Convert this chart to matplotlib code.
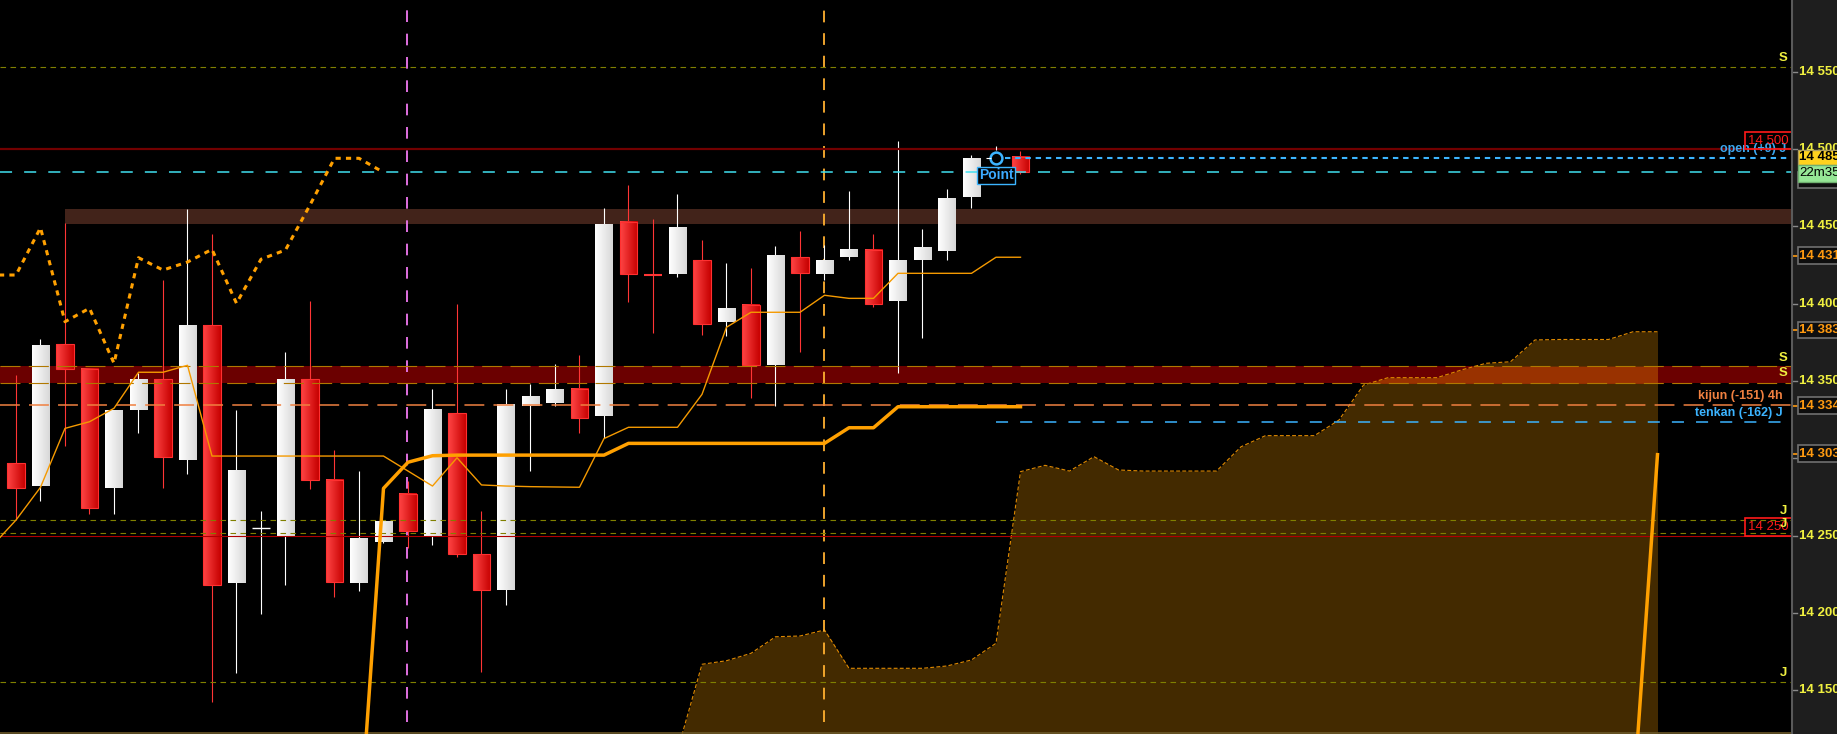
import numpy as np
import matplotlib
matplotlib.use("Agg")
import matplotlib.pyplot as plt
import matplotlib.transforms as mtransforms
from matplotlib.colors import LinearSegmentedColormap
from matplotlib.patches import Rectangle

plt.rcParams['font.family'] = ['Liberation Sans', 'DejaVu Sans']

# candles: slot on the time axis (slot 40 is empty), then OHLC
slots = list(range(0, 40)) + [41]
opens = [14297, 14282, 14374, 14358, 14281, 14331, 14351, 14299, 14386, 14219,
         14255, 14250, 14351, 14286, 14219, 14246, 14277, 14250, 14329, 14238,
         14215, 14334, 14336, 14345, 14327, 14453, 14419, 14419, 14428, 14388,
         14399, 14360, 14430, 14419, 14430, 14435, 14402, 14428, 14434, 14469,
         14495]
highs = [14354, 14377, 14452, 14358, 14331, 14355, 14415, 14461, 14445, 14331,
         14266, 14369, 14402, 14305, 14292, 14260, 14285, 14345, 14400, 14266,
         14345, 14348, 14361, 14367, 14462, 14477, 14455, 14471, 14441, 14426,
         14423, 14437, 14447, 14438, 14473, 14445, 14505, 14448, 14474, 14496,
         14499]
lows = [14260, 14272, 14308, 14264, 14264, 14316, 14281, 14290, 14142, 14161,
        14199, 14218, 14280, 14210, 14214, 14245, 14242, 14244, 14236, 14162,
        14205, 14292, 14334, 14316, 14313, 14401, 14381, 14417, 14380, 14379,
        14339, 14334, 14369, 14415, 14428, 14398, 14355, 14378, 14428, 14462,
        14484]
closes = [14281, 14373, 14358, 14268, 14331, 14351, 14301, 14386, 14218, 14292,
          14255, 14351, 14286, 14220, 14248, 14259, 14253, 14332, 14238, 14215,
          14335, 14340, 14345, 14326, 14451, 14419, 14418, 14449, 14387, 14397,
          14360, 14431, 14420, 14428, 14435, 14400, 14428, 14436, 14468, 14494,
          14485]

# thin orange line
thin_x = list(range(-1, 42))
thin_y = [14242.8, 14260.0, 14281.2, 14319.3, 14323.6, 14332.3, 14355.6, 14355.6, 14360.1,
          14301.4, 14301.4, 14301.4, 14301.4, 14301.4, 14301.4, 14301.4, 14301.4,
          14291.7, 14282.0, 14300.3, 14282.7, 14282.0, 14281.6, 14281.4, 14281.2,
          14312.7, 14320.0, 14320.0, 14320.0, 14341.3, 14384.7, 14394.4, 14394.4, 14394.4,
          14405.4, 14403.4, 14403.4, 14419.6, 14419.6, 14419.6, 14419.6, 14430.0, 14430.0]

# thick orange line (two pieces)
thick_x = list(range(14, 42))
thick_y = [14053.6, 14280.5, 14297.4, 14301.6,
           14302, 14302, 14302, 14302, 14302, 14302, 14302,
           14309.6, 14309.6, 14309.6, 14309.6, 14309.6, 14309.6, 14309.6, 14309.6, 14309.6,
           14319.7, 14319.7,
           14333.3, 14333.3, 14333.3, 14333.3, 14333.3, 14333.3]
thick2_x = [66, 67]
thick2_y = [14076.5, 14302.3]

# dashed lagging line
lag_x = list(range(-1, 16))
lag_y = [14418.5, 14418.5, 14449.1, 14388.3, 14397.0, 14361.4, 14429.7, 14421.7, 14426.9,
         14435.1, 14400.2, 14428.7, 14434.7, 14463.8, 14494.0, 14494.0, 14484.9]

# cloud upper edge
cloud_x = list(range(27, 68))
cloud_top = [14110.9, 14166.7, 14169.0, 14173.8, 14184.5, 14185.0, 14188.9,
             14164.1, 14164.1, 14164.1, 14164.1, 14165.6, 14169.5, 14180.3,
             14291.3, 14295.4, 14291.7, 14301.0, 14292.4, 14291.7, 14291.7, 14291.7, 14291.7,
             14307.4, 14314.6, 14314.6, 14314.6, 14324.7, 14347.3, 14352.1, 14352.1, 14352.1,
             14357.1, 14361.4, 14362.4, 14376.5, 14376.8, 14376.8, 14376.8, 14381.8, 14381.8]

# horizontal levels
res_level = 14500
sup_level = 14250
last_price = 14485
open_level = 14494.5
brown_zone = (14451.5, 14461.2)
red_zone = (14348.4, 14359.6)
kijun_level = 14334.4
tenkan_level = 14323.2
s_level = 14553.2
j_levels = [14260, 14251.4, 14155]
violet_x = 15.97
orange_x = 33.0
point_xy = (40, 14494)

axis_ticks = [14150, 14200, 14250, 14300, 14350, 14400, 14450, 14500, 14550]
tag_values = [14431, 14383, 14334, 14303]

# figure
W, H = 1837, 734
AXW = 1792
YLO, YHI = 14121.6, 14596.4
XLO, XHI = -0.653, 72.49
PXP = (YHI - YLO) / H  # price per pixel

fig = plt.figure(figsize=(W / 100, H / 100), dpi=100, facecolor='black')
ax = fig.add_axes([0, 0, AXW / W, 1])
ax.set_facecolor('black')
side = fig.add_axes([AXW / W, 0, 1 - AXW / W, 1])
side.set_facecolor('#1e1e1e')
for a in (ax, side):
    a.set_xticks([])
    a.set_yticks([])
    for s in a.spines.values():
        s.set_visible(False)
side.spines['left'].set_visible(True)
side.spines['left'].set_color('#5a5a5a')
side.spines['left'].set_linewidth(1.5)

bt = mtransforms.blended_transform_factory(ax.transAxes, ax.transData)
st = mtransforms.blended_transform_factory(side.transAxes, side.transData)

# zones
ax.axhspan(red_zone[0], red_zone[1], color='#6b0000', zorder=0.5, lw=0)
ax.fill_between([2, XHI + 1], brown_zone[0], brown_zone[1], color='#42231a', zorder=0.5, lw=0)

# cloud
xs = np.linspace(cloud_x[0], cloud_x[-1], 2000)
ys = np.interp(xs, cloud_x, cloud_top)
ax.fill_between(xs, 14000, ys, color='#432a00', zorder=1, lw=0)
ax.fill_between(xs, red_zone[0], np.clip(ys, red_zone[0], red_zone[1]),
                where=ys > red_zone[0], color='#993200', zorder=1.5, lw=0)
ax.plot(cloud_x, cloud_top, color='#e08a00', lw=0.8, dashes=(3.5, 2), zorder=2)

# vertical dashed lines
ax.plot([violet_x, violet_x], [YLO + 8, YHI], color='#e070e0', lw=1.4, dashes=(6, 6), zorder=3)
ax.plot([orange_x, orange_x], [YLO + 8, YHI], color='#ffb030', lw=1.3, dashes=(6.5, 6), zorder=3)

# candles
red_cm = LinearSegmentedColormap.from_list('rc', ['#ff4545', '#c60000'])
white_cm = LinearSegmentedColormap.from_list('wc', ['#ffffff', '#d8d8d8'])
grad = np.linspace(0, 1, 64).reshape(1, -1)
BW = 0.71
for i, o, h, l, c in zip(slots, opens, highs, lows, closes):
    wcol = '#ffffff' if c >= o else '#ff3535'
    ax.vlines(i, l, h, color=wcol, lw=0.8, zorder=5)
    lo, hi = min(o, c), max(o, c)
    if hi - lo < 1.5:
        ax.hlines((lo + hi) / 2, i - BW / 2, i + BW / 2, color=wcol,
                  lw=1.5 if c < o else 1.0, zorder=6)
        continue
    ax.imshow(grad, cmap=white_cm if c >= o else red_cm, aspect='auto',
              extent=[i - BW / 2, i + BW / 2, lo, hi], zorder=6)
    if c < o:
        ax.add_patch(Rectangle((i - BW / 2, lo), BW, hi - lo, fill=False,
                               ec='#ff3030', lw=0.8, zorder=6.5))

# horizontal lines
ax.axhline(res_level, color='#720000', lw=1.6, zorder=7)
ax.axhline(sup_level, color='#b00000', lw=0.8, zorder=7)
ax.axhline(last_price, color='#40e0f0', lw=1.1, dashes=(7.9, 7.9), zorder=7)
ax.plot([40.37, XHI], [open_level, open_level], color='#3cb4ff', lw=1.5, dashes=(2.6, 2.3), zorder=7)
ax.plot([40, XHI], [tenkan_level, tenkan_level], color='#3cb4ff', lw=1.1, dashes=(7.9, 7.9), zorder=7)
ax.axhline(kijun_level, color='#f08040', lw=1.1, dashes=(13, 6), zorder=7)
for lv in red_zone:
    ax.axhline(lv, color='#b07800', lw=0.8, dashes=(18, 7.5), zorder=7)
ax.axhline(s_level, color='#808000', lw=0.8, dashes=(5, 4), zorder=7)
for lv in j_levels:
    ax.axhline(lv, color='#808000', lw=0.8, dashes=(5, 4), zorder=7)
ax.axhline(YLO + 0.6, color='#6b5a2a', lw=1.2, zorder=7)

# indicator lines
ax.plot(thin_x, thin_y, color='#f59a00', lw=1.0, zorder=8)
ax.plot(thick_x, thick_y, color='#ffa000', lw=2.5, zorder=8, solid_joinstyle='round')
ax.plot(thick2_x, thick2_y, color='#ffa000', lw=2.5, zorder=8)
ax.plot(lag_x, lag_y, color='#ffa000', lw=2.2, dashes=(1.7, 1.7), zorder=8)

# point marker
ax.plot(*point_xy, marker='o', ms=8.5, mfc='none', mec='#3cb4ff', mew=1.8, zorder=9)
ax.hlines(point_xy[1], 39.6, 39.78, color='white', lw=0.8, zorder=9)
ax.vlines(point_xy[0], point_xy[1] + 5.2, point_xy[1] + 8, color='white', lw=0.8, zorder=9)
ax.text(point_xy[0], point_xy[1] - 11, 'Point', color='#3caaff', fontsize=10, fontweight='bold',
        ha='center', va='center', zorder=10,
        bbox=dict(boxstyle='square,pad=0.12', fc='black', ec='#3cb4ff', lw=1))

# labels inside the chart, right side
ax.text(1786 / AXW, open_level + 5.5, 'open (+9) J', transform=bt, color='#3ca8f0',
        fontsize=9, fontweight='bold', ha='right', va='center', zorder=10)
ax.text(1783 / AXW, kijun_level + 5.8, 'kijun (-151) 4h', transform=bt, color='#f08040',
        fontsize=9, fontweight='bold', ha='right', va='center', zorder=10)
ax.text(1783 / AXW, tenkan_level + 5.8, 'tenkan (-162) J', transform=bt, color='#3cb4ff',
        fontsize=9, fontweight='bold', ha='right', va='center', zorder=10)
for lv, txt in [(res_level, '14 500'), (sup_level, '14 250')]:
    ax.add_patch(Rectangle((1745 / AXW, lv), 1 - 1745 / AXW, 17.5 * PXP, transform=bt,
                           fill=False, ec='#ff1a1a', lw=1.2, zorder=10))
    ax.text(1768 / AXW, lv + 8.5 * PXP, txt, transform=bt, color='#ff1a1a', fontsize=9.5,
            ha='center', va='center', zorder=10)
for lv in [s_level, red_zone[1], red_zone[0] + 1.5]:
    ax.text(1787 / AXW, lv + 5.5, 'S', transform=bt, color='#f0f040', fontsize=9.5,
            fontweight='bold', ha='right', va='center', zorder=10)
for lv in j_levels:
    ax.text(1787 / AXW, lv + 5.8, 'J', transform=bt, color='#f0f040', fontsize=9.5,
            fontweight='bold', ha='right', va='center', zorder=10)

# right price axis
for t in axis_ticks:
    side.plot([0, 5 / 45], [t, t], color='#8a8a8a', lw=1, transform=st)
    side.text(7 / 45, t, '14 ' + str(t)[2:], transform=st, color='#f0f040', fontsize=9.5,
              fontweight='bold', ha='left', va='center')
for v in tag_values:
    side.plot([0, 5 / 45], [v, v], color='#ff9a10', lw=1.2, transform=st)
    side.add_patch(Rectangle((5.5 / 45, v - 8.2 * PXP), 2, 16.4 * PXP, transform=st,
                             fc='#0e0e0e', ec='#707070', lw=1.2, zorder=3))
    side.text(7 / 45, v, '14 ' + str(v)[2:], transform=st, color='#ff9a10', fontsize=9.5,
              fontweight='bold', ha='left', va='center', zorder=4)
# hidden price tag, yellow last price tag and timer tag
side.add_patch(Rectangle((5.5 / 45, 14480 - 8.2 * PXP), 2, 16.4 * PXP, transform=st,
                         fc='#0e0e0e', ec='#707070', lw=1.2, zorder=3))
side.text(7 / 45, 14480, '14 485', transform=st, color='#e0e0a0', fontsize=9.5,
          fontweight='bold', ha='left', va='center', zorder=4)
side.add_patch(Rectangle((5.5 / 45, 14489.7), 2, 9.7, transform=st,
                         fc='#ffd21e', ec='#b0a060', lw=1, zorder=5))
side.text(7 / 45, 14494.6, '14 485', transform=st, color='black', fontsize=9.5,
          fontweight='bold', ha='left', va='center', zorder=6)
side.add_patch(Rectangle((5.5 / 45, 14478.9), 2, 10.8, transform=st,
                         fc='#96e696', ec='#70b070', lw=1, zorder=5))
side.text(7 / 45, 14484.3, '22m35s', transform=st, color='black', fontsize=9.5,
          ha='left', va='center', zorder=6)

ax.set_xlim(XLO, XHI)
ax.set_ylim(YLO, YHI)
side.set_xlim(0, 1)
side.set_ylim(YLO, YHI)

fig.savefig('out.png', dpi=100, facecolor='black')
